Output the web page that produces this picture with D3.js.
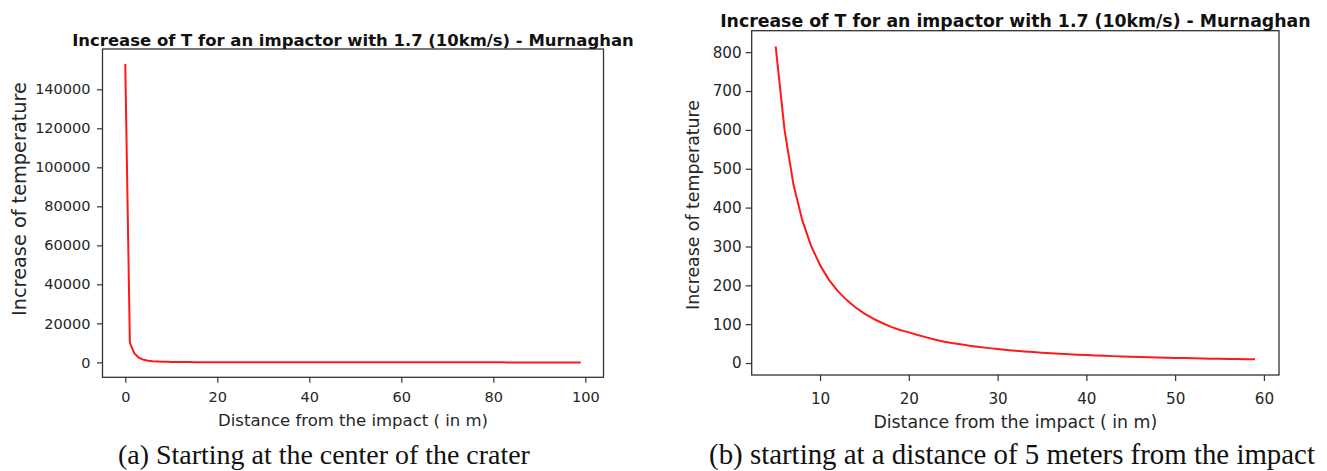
<!DOCTYPE html>
<html>
<head>
<meta charset="utf-8">
<script src="https://cdn.jsdelivr.net/npm/d3@7"></script>
<style>
  body { margin: 0; background: #fff; }
  svg { display: block; }
</style>
</head>
<body>
<div id="chart"></div>
<script>
// data
var titleText = "Increase of T for an impactor with 1.7 (10km/s) - Murnaghan";
var xLabelText = "Distance from the impact ( in m)";
var yLabelText = "Increase of temperature";
var captionA = "(a) Starting at the center of the crater";
var captionB = "(b) starting at a distance of 5 meters from the impact";

// (a) distance 0..99 m
var distA = d3.range(0, 100);
var tempA = [153000, 10000, 4500, 2300, 1300, 815, 600, 460, 367, 301,
  252, 214, 185, 162, 143, 127, 114, 103, 93, 85,
  79, 72, 66, 60, 55, 51, 47.5, 44, 41, 38.4,
  36, 33.8, 31.8, 29.9, 28.2, 26.7, 25.3, 24, 22.8, 21.6,
  20.6, 19.6, 18.7, 17.8, 17, 16.3, 15.6, 14.9, 14.3, 13.7,
  13.2, 12.7, 12.2, 11.7, 11.3, 10.9, 10.5, 10.1, 9.8, 9.5,
  9.2, 8.9, 8.6, 8.3, 8.1, 7.8, 7.6, 7.4, 7.2, 7,
  6.8, 6.6, 6.4, 6.2, 6, 5.9, 5.7, 5.6, 5.4, 5.3,
  5.2, 5, 4.9, 4.8, 4.7, 4.6, 4.5, 4.4, 4.3, 4.2,
  4.1, 4, 3.9, 3.8, 3.7, 3.7, 3.6, 3.5, 3.4, 3.4];
var xTicksA = [0, 20, 40, 60, 80, 100];
var yTicksA = [0, 20000, 40000, 60000, 80000, 100000, 120000, 140000];

// (b) distance 5..59 m
var distB = d3.range(5, 60);
var tempB = [815, 600, 460, 367, 301,
  252, 214, 185, 162, 143, 127, 114, 103, 93, 85,
  79, 72, 66, 60, 55, 51, 47.5, 44, 41, 38.4,
  36, 33.8, 31.8, 29.9, 28.2, 26.7, 25.3, 24, 22.8, 21.6,
  20.6, 19.6, 18.7, 17.8, 17, 16.3, 15.6, 14.9, 14.3, 13.7,
  13.2, 12.7, 12.2, 11.7, 11.3, 10.9, 10.5, 10.1, 9.8, 9.5];
var xTicksB = [10, 20, 30, 40, 50, 60];
var yTicksB = [0, 100, 200, 300, 400, 500, 600, 700, 800];

var W = 1327, H = 471;
var textColor = "#262626", frameColor = "#333";

var svg = d3.select("#chart")
  .append("svg")
  .attr("width", W)
  .attr("height", H)
  .style("font-family", "'DejaVu Sans', sans-serif");

// shrink/grow font so the text gets the wanted width
function fitWidth(sel, w) {
  var cur = sel.node().getComputedTextLength();
  var fs = parseFloat(sel.attr("font-size"));
  sel.attr("font-size", fs * w / cur);
}

function panel(p) {
  // matplotlib style 5% margins
  var xe = d3.extent(p.xs), ye = d3.extent(p.ys);
  var xm = (xe[1] - xe[0]) * 0.05, ym = (ye[1] - ye[0]) * 0.05;
  var x = d3.scaleLinear().domain([xe[0] - xm, xe[1] + xm]).range([p.left, p.right]);
  var y = d3.scaleLinear().domain([ye[0] - ym, ye[1] + ym]).range([p.bottom, p.top]);

  var g = svg.append("g");

  g.append("path")
    .datum(d3.zip(p.xs, p.ys))
    .attr("fill", "none")
    .attr("stroke", "#ff1a1a")
    .attr("stroke-width", 2)
    .attr("stroke-linejoin", "round")
    .attr("d", d3.line().x(d => x(d[0])).y(d => y(d[1])));

  var xa = g.append("g")
    .attr("transform", "translate(0," + p.bottom + ")")
    .call(d3.axisBottom(x).tickValues(p.xTicks).tickSize(p.tick).tickPadding(p.xPad).tickFormat(d3.format("d")));
  var ya = g.append("g")
    .attr("transform", "translate(" + p.left + ",0)")
    .call(d3.axisLeft(y).tickValues(p.yTicks).tickSize(p.tick).tickPadding(p.yPad).tickFormat(d3.format("d")));

  [xa, ya].forEach(function(a) {
    a.select(".domain").remove();
    a.selectAll("line").attr("stroke", frameColor).attr("stroke-width", 1.2);
    a.selectAll("text")
      .attr("fill", textColor)
      .attr("font-family", "'DejaVu Sans', sans-serif")
      .attr("font-size", p.tickFont);
  });

  // frame
  g.append("rect")
    .attr("x", p.left).attr("y", p.top)
    .attr("width", p.right - p.left).attr("height", p.bottom - p.top)
    .attr("fill", "none")
    .attr("stroke", frameColor)
    .attr("stroke-width", 1.3);

  var t = g.append("text")
    .attr("x", (p.left + p.right) / 2).attr("y", p.titleY)
    .attr("dy", "0.36em")
    .attr("text-anchor", "middle")
    .attr("font-weight", "bold")
    .attr("font-size", 14)
    .attr("fill", "#111")
    .text(titleText);
  fitWidth(t, p.titleW);

  var xl = g.append("text")
    .attr("x", (p.left + p.right) / 2).attr("y", p.xLabelY)
    .attr("dy", "0.36em")
    .attr("text-anchor", "middle")
    .attr("font-size", 15)
    .attr("fill", textColor)
    .text(xLabelText);
  fitWidth(xl, p.xLabelW);

  var yl = g.append("text")
    .attr("transform", "translate(" + p.yLabelX + "," + p.yLabelY + ") rotate(-90)")
    .attr("dy", "0.36em")
    .attr("text-anchor", "middle")
    .attr("font-size", 15)
    .attr("fill", textColor)
    .text(yLabelText);
  fitWidth(yl, p.yLabelW);

  var c = g.append("text")
    .attr("x", p.capX).attr("y", p.capY)
    .attr("text-anchor", "middle")
    .attr("font-family", "'Liberation Serif', 'DejaVu Serif', serif")
    .attr("font-size", 20)
    .attr("fill", "#111")
    .text(p.caption);
  fitWidth(c, p.capW);
}

panel({
  xs: distA, ys: tempA, xTicks: xTicksA, yTicks: yTicksA,
  left: 102.5, right: 603.5, top: 49, bottom: 377.3,
  tick: 5.5, xPad: 9, yPad: 6.5, tickFont: 14.5,
  titleY: 40, titleW: 562,
  xLabelY: 419.6, xLabelW: 270,
  yLabelX: 19.5, yLabelY: 199, yLabelW: 234,
  caption: captionA, capX: 324, capY: 463.5, capW: 412
});

panel({
  xs: distB, ys: tempB, xTicks: xTicksB, yTicks: yTicksB,
  left: 751.7, right: 1279, top: 30.7, bottom: 375,
  tick: 6, xPad: 12, yPad: 4, tickFont: 15.2,
  titleY: 21, titleW: 591,
  xLabelY: 421.8, xLabelW: 284,
  yLabelX: 693, yLabelY: 205, yLabelW: 210,
  caption: captionB, capX: 1012, capY: 463.5, capW: 606
});
</script>
</body>
</html>
